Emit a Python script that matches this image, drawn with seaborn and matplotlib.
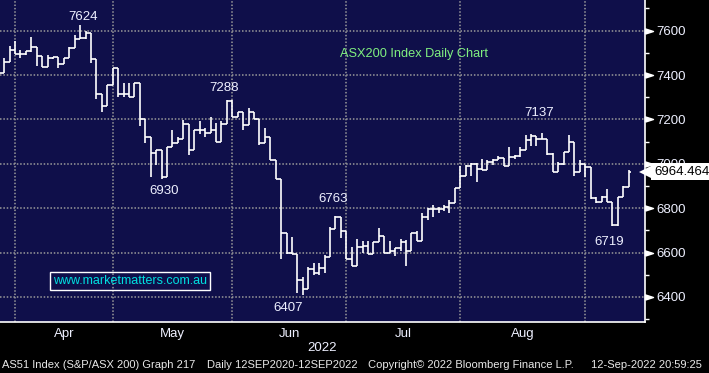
import numpy as np
import pandas as pd
import matplotlib
matplotlib.use("Agg")
import matplotlib.pyplot as plt
from matplotlib.path import Path
import seaborn as sns

# Daily OHLC bars, ASX200, late Mar 2022 -> 12 Sep 2022 (trading days)
opens = [7400, 7411, 7460, 7513, 7493, 7493, 7507, 7525, 7486, 7438,
         7475, 7480, 7450, 7475, 7520, 7561, 7565, 7588, 7471, 7315,
         7260, 7355, 7430, 7313, 7313, 7300, 7363, 7201, 7120, 7047,
         7062, 6939, 7075, 7095, 7110, 7180, 7062, 7150, 7150, 7140,
         7153, 7100, 7180, 7285, 7210, 7232, 7175, 7235, 7200, 7095,
         7120, 7018, 6930, 6687, 6600, 6594, 6477, 6435, 6525, 6510,
         6530, 6578, 6705, 6762, 6699, 6570, 6540, 6624, 6630, 6592,
         6649, 6676, 6600, 6607, 6619, 6649, 6607, 6687, 6652, 6760,
         6795, 6795, 6795, 6807, 6822, 6890, 6943, 6991, 7000, 6976,
         6973, 7010, 7018, 7025, 6991, 7030, 7033, 7063, 7105, 7126,
         7111, 7111, 7045, 6961, 7000, 7051, 7100, 6961, 7000, 6985,
         6845, 6826, 6850, 6826, 6725, 6850, 6895]
highs = [7420, 7478, 7531, 7555, 7513, 7510, 7573, 7525, 7486, 7490,
         7480, 7480, 7475, 7525, 7580, 7624, 7600, 7588, 7471, 7315,
         7355, 7430, 7430, 7363, 7363, 7366, 7363, 7201, 7120, 7062,
         7062, 7075, 7150, 7120, 7198, 7180, 7153, 7193, 7160, 7213,
         7183, 7195, 7288, 7288, 7235, 7232, 7250, 7235, 7200, 7160,
         7120, 7018, 6930, 6687, 6672, 6594, 6492, 6537, 6555, 6552,
         6589, 6714, 6763, 6762, 6699, 6624, 6660, 6654, 6652, 6649,
         6712, 6676, 6652, 6619, 6660, 6657, 6690, 6697, 6777, 6800,
         6815, 6807, 6815, 6835, 6890, 6991, 6995, 7003, 7003, 7021,
         7015, 7021, 7033, 7025, 7075, 7040, 7075, 7130, 7133, 7126,
         7137, 7111, 7048, 7010, 7055, 7130, 7100, 7018, 7000, 6985,
         6852, 6855, 6885, 6826, 6850, 6898, 6973]
lows = [7395, 7411, 7460, 7493, 7475, 7490, 7505, 7441, 7438, 7438,
        7470, 7430, 7450, 7475, 7520, 7561, 7561, 7453, 7291, 7235,
        7260, 7355, 7303, 7303, 7300, 7300, 7168, 7093, 6942, 6995,
        6930, 6939, 7075, 7095, 7110, 7040, 7062, 7135, 7120, 7138,
        7100, 7100, 7180, 7210, 7210, 7150, 7175, 7200, 7085, 7093,
        7018, 6930, 6570, 6594, 6594, 6417, 6407, 6435, 6500, 6500,
        6506, 6578, 6705, 6667, 6570, 6540, 6540, 6597, 6592, 6592,
        6649, 6600, 6600, 6584, 6607, 6540, 6607, 6652, 6652, 6747,
        6762, 6777, 6785, 6780, 6822, 6890, 6943, 6946, 6920, 6973,
        6970, 6995, 7015, 6991, 6991, 7020, 7030, 7063, 7081, 7081,
        7111, 7040, 6961, 6961, 6995, 7051, 6943, 6961, 6940, 6840,
        6825, 6826, 6826, 6719, 6719, 6850, 6895]
closes = [7411, 7460, 7513, 7493, 7493, 7507, 7525, 7486, 7438, 7475,
          7480, 7450, 7475, 7520, 7561, 7565, 7588, 7471, 7315, 7260,
          7355, 7430, 7313, 7313, 7300, 7363, 7201, 7120, 7047, 7062,
          6939, 7075, 7095, 7110, 7180, 7062, 7150, 7150, 7140, 7153,
          7100, 7180, 7285, 7210, 7232, 7175, 7235, 7200, 7095, 7120,
          7018, 6930, 6687, 6600, 6594, 6477, 6435, 6525, 6510, 6530,
          6578, 6705, 6762, 6699, 6570, 6540, 6624, 6630, 6592, 6649,
          6676, 6600, 6607, 6619, 6649, 6607, 6687, 6652, 6760, 6795,
          6795, 6795, 6807, 6822, 6890, 6943, 6991, 7000, 6976, 6973,
          7010, 7018, 7025, 6991, 7030, 7033, 7063, 7105, 7126, 7111,
          7111, 7045, 6961, 7000, 7051, 7100, 6961, 7000, 6985, 6845,
          6826, 6850, 6826, 6725, 6850, 6895, 6964]

months = ["Apr", "May", "Jun", "Jul", "Aug"]
month_starts = [0, 18, 40, 61, 82, 105]   # trading-day index of 1st of month
last_price = 6964.464

peaks = ["7624", "7288", "6930", "6407", "6763", "7137", "6719"]
peak_x = [12.5, 38.5, 27.4, 50.3, 58.6, 96.5, 109.4]
peak_y = [7662, 7342, 6878, 6350, 6842, 7229, 6649]

df = pd.DataFrame({"open": opens, "high": highs, "low": lows, "close": closes})
df["day"] = np.arange(len(df)) - 3

navy = "#0f0f4a"
grid_c = "#9a9a9a"
txt_c = "#eef0ff"

sns.set_style("dark", {"axes.facecolor": navy, "figure.facecolor": "black",
                       "axes.grid": False})
plt.rcParams["font.family"] = ["Liberation Sans", "DejaVu Sans"]

fig = plt.figure(figsize=(7.09, 3.73), dpi=100, facecolor="black")
ax = fig.add_axes([0, 51 / 373, 645 / 709, 322 / 373])
ax.set_facecolor(navy)

# gridlines
for m in month_starts:
    ax.axvline(m, color=grid_c, lw=1.1, ls=(0, (1, 1.2)), zorder=1)
for p in range(6400, 7800, 200):
    ax.axhline(p, color=grid_c, lw=1.1, ls=(0, (1, 1.2)), zorder=1)

# OHLC bars
half = 0.5
ax.vlines(df["day"], df["low"], df["high"], color="white", lw=1.2, zorder=3)
ax.hlines(df["open"], df["day"] - half, df["day"], color="white", lw=1.2, zorder=3)
ax.hlines(df["close"], df["day"], df["day"] + half, color="white", lw=1.2, zorder=3)

ax.set_xlim(-2.76, 116.0)
ax.set_ylim(6287, 7738)

# axes styling
for s in ["left", "top"]:
    ax.spines[s].set_visible(False)
for s in ["right", "bottom"]:
    ax.spines[s].set_visible(True)
    ax.spines[s].set_color("white")
    ax.spines[s].set_linewidth(1.2)

ax.yaxis.tick_right()
ax.set_yticks(range(6400, 7800, 200))
ax.set_yticks(range(6300, 7800, 100), minor=True)
ax.tick_params(axis="y", which="major", length=0, pad=8, labelsize=9.5,
               labelcolor=txt_c)
ax.tick_params(axis="y", which="minor", length=3.2, width=1, color="white",
               direction="out")
# triangle tick markers
tri = Path([(0, -0.32), (0, 0.32), (1, 0), (0, -0.32)])
ax.plot([1.0] * 7, list(range(6400, 7800, 200)), marker=tri, ms=11.5, ls="none",
        color="white", transform=ax.get_yaxis_transform(), clip_on=False, zorder=5)

ax.set_xticks(month_starts)
ax.set_xticklabels([""] * len(month_starts))
ax.tick_params(axis="x", which="major", length=2.5, width=1, color="white",
               direction="out")
mid = [(month_starts[i] + month_starts[i + 1]) / 2 for i in range(5)]
ax.set_xticks(mid, minor=True)
ax.set_xticklabels(months, minor=True)
ax.tick_params(axis="x", which="minor", length=0, pad=4.5, labelsize=9.5,
               labelcolor=txt_c)
ax.set_xlabel("")
ax.set_ylabel("")

# annotations
for t, x, y in zip(peaks, peak_x, peak_y):
    ax.text(x, y, t, color=txt_c, fontsize=9.5, ha="center", va="center", zorder=4)

ax.text(73.5, 7493, "ASX200 Index Daily Chart", color="#80f080", fontsize=9.2,
        ha="center", va="center")
ax.text(130 / 645, 41 / 322, "www.marketmatters.com.au", color="#00e0e0",
        fontsize=9, ha="center", va="center", transform=ax.transAxes,
        bbox=dict(boxstyle="square,pad=0.25", fc="none", ec="white", lw=1))

# last price box
ax.annotate(f"{last_price:.3f}", xy=(1.0, last_price),
            xycoords=ax.get_yaxis_transform(), xytext=(9, 0),
            textcoords="offset pixels", ha="left", va="center", color="black",
            fontsize=9.5, annotation_clip=False,
            bbox=dict(boxstyle="square,pad=0.2", fc="white", ec="none"))
ax.plot([1.0], [last_price], marker="<", ms=9, color="white", ls="none",
        transform=ax.get_yaxis_transform(), clip_on=False, zorder=6,
        markeredgewidth=0)

# footer
fig.text(322 / 709, 1 - 348 / 373, "2022", color=txt_c, fontsize=9.5,
         ha="center", va="center")
fy = 1 - 365 / 373
for t, x in [("AS51 Index (S&P/ASX 200) Graph 217", 2),
             ("Daily 12SEP2020-12SEP2022", 207),
             ("Copyright\u00a9 2022 Bloomberg Finance L.P.", 368),
             ("12-Sep-2022 20:59:25", 591)]:
    fig.text(x / 709, fy, t, color="#e8e8e8", fontsize=8, ha="left", va="center")

fig.savefig("out.png", dpi=100, facecolor="black")
